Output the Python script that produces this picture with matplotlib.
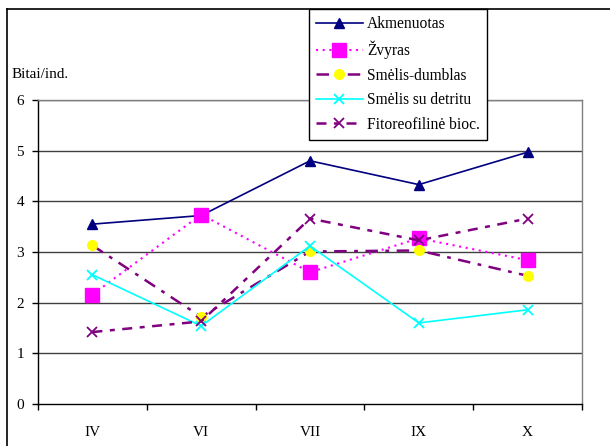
import matplotlib
matplotlib.use("Agg")
import matplotlib.pyplot as plt
from matplotlib.lines import Line2D

# months and diversity per substrate (bits per individual)
months = ['IV', 'VI', 'VII', 'IX', 'X']
akmenuotas = [3.55, 3.72, 4.80, 4.33, 4.97]
zvyras = [2.16, 3.74, 2.60, 3.27, 2.84]
smelis_dumblas = [3.13, 1.72, 3.01, 3.03, 2.53]
smelis_detritas = [2.55, 1.54, 3.12, 1.60, 1.86]
fitoreofiline = [1.42, 1.63, 3.66, 3.23, 3.66]

plt.rcParams['font.family'] = ['Liberation Serif', 'DejaVu Serif']

fig = plt.figure(figsize=(6.1, 4.46), dpi=100)
ax = fig.add_axes([38 / 610, 1 - 404 / 446, 544 / 610, 304 / 446])

x = list(range(len(months)))
ax.plot(x, akmenuotas, color='#000080', lw=1.2, marker='^', ms=7,
        label='Akmenuotas')
ax.plot(x, zvyras, color='#FF00FF', lw=1.5, ls=(0, (1, 2.2)), marker='s',
        ms=9.5, mec='#FF00FF', label='Žvyras')
ax.plot(x, smelis_dumblas, color='#800080', lw=1.8, ls=(0, (5, 3, 1.5, 3)),
        marker='o', ms=7, mfc='#FFFF00', mec='#FFFF00', label='Smėlis-dumblas')
ax.plot(x, smelis_detritas, color='#00FFFF', lw=1.2, marker='x', ms=7,
        mew=1.3, label='Smėlis su detritu')
ax.plot(x, fitoreofiline, color='#800080', lw=1.8, ls=(0, (4, 3, 2, 3)),
        marker='x', ms=7, mew=1.3, label='Fitoreofilinė bioc.')

ax.set_xlim(-0.5, len(months) - 0.5)
ax.set_ylim(0, 6)
ax.set_yticks(range(0, 7))
ax.set_xticks([i - 0.5 for i in range(len(months) + 1)])
ax.set_xticklabels([])
ax.set_xticks(x, minor=True)
ax.set_xticklabels(months, minor=True, fontsize=11)
ax.tick_params(axis='x', which='minor', length=0, pad=16)
ax.tick_params(axis='x', which='major', direction='out', length=4, width=1)
ax.tick_params(axis='y', direction='out', length=4, width=1, pad=6,
               labelsize=11)

for v in range(1, 7):
    ax.axhline(v, color='#404040', lw=1, zorder=0)
ax.spines['top'].set_color('#808080')
ax.spines['right'].set_color('#808080')
ax.spines['left'].set_color('black')
ax.spines['bottom'].set_color('black')
for s in ax.spines.values():
    s.set_linewidth(1)

fig.text(12 / 610, 1 - 74 / 446, 'Bitai/ind.', fontsize=11, va='center',
         ha='left')

# chart area border (left and top edges)
bx, by = 7 / 610, 1 - 9 / 446
fig.add_artist(Line2D([bx, bx], [0, by], color='black', lw=1.2,
                      transform=fig.transFigure))
fig.add_artist(Line2D([bx, 1], [by, by], color='black', lw=1.2,
                      transform=fig.transFigure))

leg = fig.legend(loc='upper left', bbox_to_anchor=(309 / 610, by),
                 borderaxespad=0, fontsize=11.2, handlelength=3.0,
                 handletextpad=0.3, labelspacing=0.55, borderpad=0.45,
                 fancybox=False, framealpha=1, edgecolor='black')
leg.get_frame().set_linewidth(1)

fig.savefig('out.png', dpi=100)
